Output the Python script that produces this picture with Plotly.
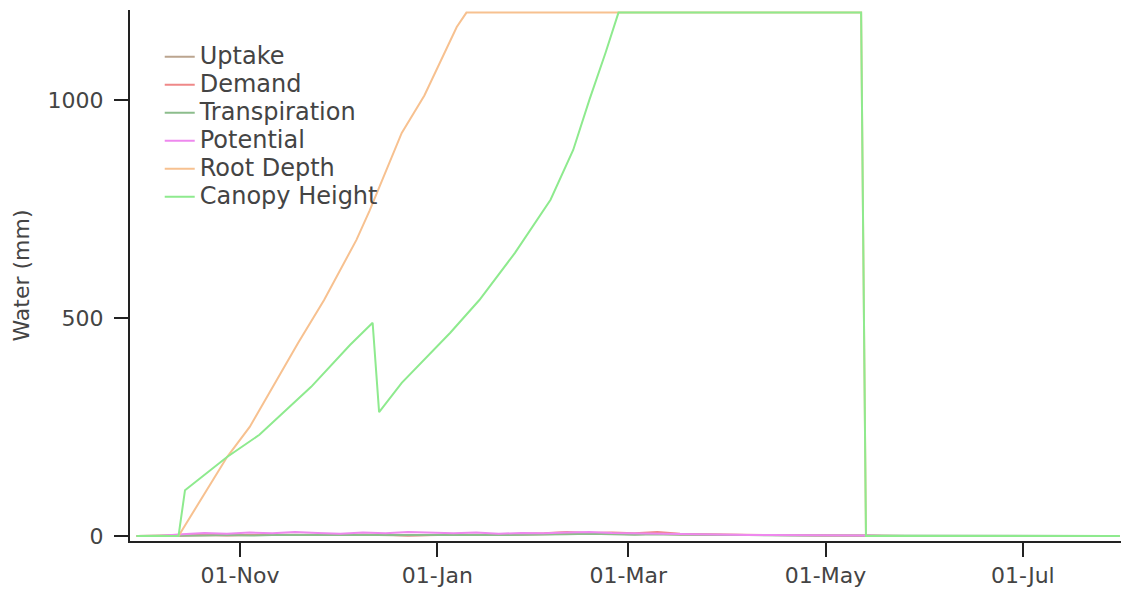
import pandas as pd
import plotly.graph_objects as go

# Weekly samples for the small daily water fluxes
flux_dates = pd.date_range("2022-09-30", periods=44, freq="7D")
uptake = [0, 0, 1, 2, 2, 1, 2, 3, 2, 2, 3, 2, 1, 2, 2, 3, 2, 3, 4, 5, 6, 5, 4, 5, 3, 3, 2, 2, 2, 1, 1, 1, 0, 0, 0, 0, 0, 0, 0, 0, 0, 0, 0, 0]
demand = [0, 0, 1, 2, 1, 2, 3, 2, 2, 3, 2, 3, 1, 2, 3, 2, 3, 4, 6, 9, 7, 8, 6, 9, 5, 4, 3, 2, 2, 2, 1, 1, 1, 0, 0, 0, 0, 0, 0, 0, 0, 0, 0, 0]
transpiration = [0, 0, 1, 1, 2, 1, 2, 2, 1, 2, 2, 2, 1, 2, 2, 2, 2, 3, 3, 4, 5, 4, 3, 4, 3, 2, 2, 2, 1, 1, 1, 1, 0, 0, 0, 0, 0, 0, 0, 0, 0, 0, 0, 0]
potential = [0, 0, 4, 7, 5, 8, 6, 9, 7, 5, 8, 6, 9, 7, 6, 8, 5, 7, 6, 8, 9, 7, 6, 5, 4, 3, 3, 2, 2, 2, 2, 1, 1, 0, 0, 0, 0, 0, 0, 0, 0, 0, 0, 0]

# Root depth (mm)
root_dates = ["2022-09-30", "2022-10-13", "2022-10-28", "2022-11-04", "2022-11-19",
              "2022-11-27", "2022-12-07", "2022-12-11", "2022-12-21", "2022-12-28",
              "2023-01-07", "2023-01-10", "2023-05-12", "2023-05-13 12:00", "2023-07-31"]
root_depth = [0, 0, 181, 250, 443, 541, 679, 745, 924, 1010, 1167, 1200, 1200, 0, 0]

# Canopy height (mm)
canopy_dates = ["2022-09-30", "2022-10-13", "2022-10-15", "2022-10-28", "2022-11-07",
                "2022-11-23", "2022-12-05", "2022-12-12", "2022-12-14", "2022-12-21",
                "2023-01-05", "2023-01-14", "2023-01-25", "2023-02-05", "2023-02-12",
                "2023-02-17", "2023-02-22", "2023-02-26", "2023-05-12", "2023-05-13 12:00",
                "2023-07-31"]
canopy_height = [0, 0, 105, 181, 232, 342, 438, 489, 284, 351, 466, 541, 649, 771, 885,
                 1000, 1108, 1200, 1200, 0, 0]

series = [
    ("Uptake", flux_dates, uptake, "#bba58f"),
    ("Demand", flux_dates, demand, "#ef8888"),
    ("Transpiration", flux_dates, transpiration, "#8cbd8c"),
    ("Potential", flux_dates, potential, "#ee88ee"),
    ("Root Depth", root_dates, root_depth, "#f7c190"),
    ("Canopy Height", canopy_dates, canopy_height, "#8eea8e"),
]

fig = go.Figure()
for name, x, y, color in series:
    fig.add_trace(go.Scatter(
        x=x, y=y, mode="lines",
        name=f"<span style='font-size:24px'>{name}</span>",
        line=dict(color=color, width=2)))

fig.update_layout(
    width=1121, height=597,
    margin=dict(l=130, r=0, t=10, b=56),
    paper_bgcolor="white", plot_bgcolor="white",
    font=dict(family="DejaVu Sans", size=23, color="#444"),
    showlegend=True,
    # compact rows with larger entry text
    legend=dict(x=0.03, y=0.9475, xanchor="left", yanchor="top",
                bgcolor="rgba(0,0,0,0)", font=dict(size=19.2, color="#444"),
                tracegroupgap=0),
)
fig.update_xaxes(
    range=["2022-09-28", "2023-07-31 08:00"],
    tickformat="%d-%b", dtick="M2", tick0="2022-11-01",
    showline=True, linecolor="#222", linewidth=2,
    ticks="outside", ticklen=14, tickwidth=2, tickcolor="#222",
    showgrid=False, zeroline=False,
    tickfont=dict(size=22, color="#444"),
)
fig.update_yaxes(
    range=[-11.5, 1206],
    tickvals=[0, 500, 1000],
    ticklabelstandoff=6,
    title=dict(text="Water (mm)", font=dict(size=22, color="#444"), standoff=12),
    showline=True, linecolor="#222", linewidth=2,
    ticks="outside", ticklen=14, tickwidth=2, tickcolor="#222",
    showgrid=False, zeroline=False,
    tickfont=dict(size=22, color="#444"),
)

fig.write_html("out.html")
